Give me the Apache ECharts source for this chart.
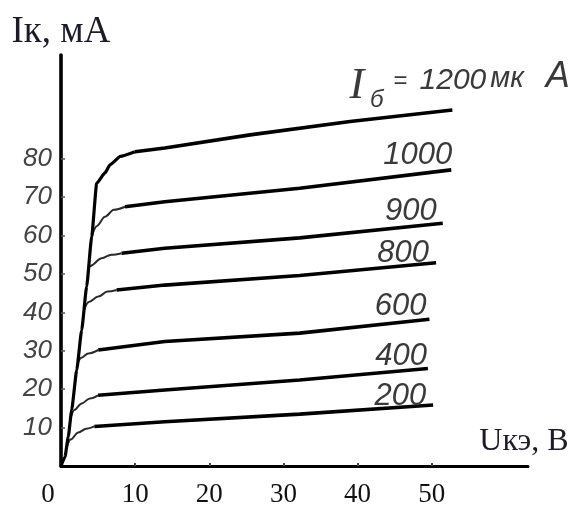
<!DOCTYPE html>
<html>
<head>
<meta charset="utf-8">
<script src="https://cdn.jsdelivr.net/npm/echarts@6/dist/echarts.min.js"></script>
<style>
  html, body { margin: 0; padding: 0; background: #fff; }
  #chart { width: 575px; height: 508px; }
</style>
</head>
<body>
<div id="chart"></div>
<script>
// Output characteristics of a bipolar transistor: Iк versus Uкэ for several base currents Iб (мкА).

const xTicks = [0, 10, 20, 30, 40, 50];
const yTicks = [10, 20, 30, 40, 50, 60, 70, 80];

// Base currents, мкА
const baseCurrents = [1200, 1000, 900, 800, 600, 400, 200];

// Rising part of each curve: [Uкэ, В ; Iк, мА].
// The 1200 curve carries the common steep front starting at the origin;
// the lower curves leave that front at their bend.
const knee1200 = [[0, 0], [0.54, 2.4], [0.98, 7.6], [1.44, 14.6], [2.12, 25.0], [2.79, 35.4], [3.46, 46.7], [4.14, 59.7], [4.81, 73.6], [5.93, 76.3], [6.6, 78.4], [8.0, 80.6], [9.97, 81.8]];
const knee1000 = [[4.14, 59.7], [4.85, 62.5], [5.93, 64.9], [7.14, 66.7], [8.63, 67.5]];
const knee900 = [[3.6, 49.4], [3.96, 52.1], [5.49, 54.1], [6.8, 55.0], [8.18, 55.4]];
const knee800 = [[3.1, 40.6], [3.76, 42.7], [5.03, 44.1], [6.27, 45.4], [7.5, 45.8]];
const knee600 = [[2.3, 27.0], [2.75, 28.2], [3.68, 29.3], [5.03, 30.2]];
const knee400 = [[1.3, 12.5], [1.8, 14.6], [2.79, 16.3], [3.9, 17.6], [5.0, 18.4]];
const knee200 = [[0.72, 4.5], [1.3, 6.9], [2.33, 8.7], [3.4, 9.7], [4.5, 10.3]];

// Active (almost flat) part of each curve
const flat1200 = [[9.97, 81.8], [14.0, 82.8], [25.5, 86.2], [39.0, 89.7], [52.8, 92.7]];
const flat1000 = [[8.63, 67.5], [14.0, 68.8], [32.2, 72.3], [52.65, 77.1]];
const flat900 = [[8.18, 55.4], [14.0, 56.7], [32.2, 59.4], [51.5, 63.2]];
const flat800 = [[7.5, 45.8], [14.0, 47.1], [32.2, 49.6], [50.6, 52.9]];
const flat600 = [[5.03, 30.2], [14.0, 32.4], [32.2, 34.6], [49.7, 38.2]];
const flat400 = [[5.0, 18.4], [14.0, 19.8], [32.2, 22.4], [49.5, 25.4]];
const flat200 = [[4.5, 10.3], [14.0, 11.5], [32.2, 13.5], [50.2, 15.9]];

const knees = [knee1200, knee1000, knee900, knee800, knee600, knee400, knee200];
const flats = [flat1200, flat1000, flat900, flat800, flat600, flat400, flat200];

const handFont = "'Liberation Sans', 'DejaVu Sans', sans-serif";
const serifFont = "'Liberation Serif', 'DejaVu Serif', serif";
const inkGray = '#3a3a3a';

// Nudges for the curve captions (pixels)
const captionShift = {
  1000: [-7, 1.5],
  900: [-14, 3.5],
  800: [-15, 6.5],
  600: [-11, 2.5],
  400: [-9, 3.5],
  200: [-15, 6.5]
};

const series = [];
baseCurrents.forEach((ib, i) => {
  const main = ib === 1200;
  series.push({
    name: 'knee ' + ib,
    type: 'line',
    data: knees[i],
    showSymbol: false,
    smooth: main ? 0.15 : 0.35,
    smoothMonotone: 'x',
    z: main ? 5 : 2,
    lineStyle: { color: main ? '#000' : '#2a2a2a', width: main ? 3.2 : 2 },
    silent: true
  });
  const shift = captionShift[ib] || [0, 0];
  series.push({
    name: String(ib),
    type: 'line',
    data: flats[i],
    showSymbol: false,
    z: 4,
    lineStyle: { color: '#000', width: 3.6 },
    silent: true,
    endLabel: main ? {
      show: true,
      align: 'left',
      verticalAlign: 'bottom',
      offset: [-111, 2],
      formatter: () => '{a|I}{b|б}{e|=}{c|1200}{d|мк}{f|A}',
      rich: {
        a: { fontFamily: serifFont, fontStyle: 'italic', fontSize: 44, color: inkGray, verticalAlign: 'bottom', padding: [0, 4, 3, 0] },
        b: { fontFamily: handFont, fontStyle: 'italic', fontSize: 24, color: inkGray, verticalAlign: 'bottom', padding: [0, 10, 0, 2] },
        e: { fontFamily: handFont, fontSize: 24, color: inkGray, verticalAlign: 'bottom', padding: [0, 12, 19, 0] },
        c: { fontFamily: handFont, fontStyle: 'italic', fontSize: 30, color: inkGray, verticalAlign: 'bottom', padding: [0, 4, 16, 0] },
        d: { fontFamily: handFont, fontStyle: 'italic', fontSize: 29, color: inkGray, verticalAlign: 'bottom', padding: [0, 22, 18, 0] },
        f: { fontFamily: handFont, fontStyle: 'italic', fontSize: 36, color: inkGray, verticalAlign: 'bottom', padding: [0, 0, 17, 0] }
      }
    } : {
      show: true,
      align: 'right',
      verticalAlign: 'bottom',
      offset: shift,
      formatter: String(ib),
      fontFamily: handFont,
      fontStyle: 'italic',
      fontSize: 31,
      color: inkGray
    }
  });
});

const chart = echarts.init(document.getElementById('chart'), null, { renderer: 'canvas' });
chart.setOption({
  backgroundColor: '#fff',
  animation: false,
  grid: { left: 61, right: 47, top: 55, bottom: 42, containLabel: false },
  xAxis: {
    type: 'value',
    min: 0,
    max: 63,
    interval: 10,
    name: 'Uкэ, В',
    nameLocation: 'end',
    nameGap: -4,
    nameTextStyle: {
      fontFamily: serifFont, fontSize: 32, color: '#1b1b2b',
      align: 'center', verticalAlign: 'bottom', padding: [0, 0, 8, 0]
    },
    axisLine: { show: true, lineStyle: { color: '#000', width: 3 } },
    axisTick: { show: true, inside: true, length: 3, customValues: xTicks, lineStyle: { color: '#444', width: 2 } },
    axisLabel: {
      customValues: xTicks,
      margin: 15,
      fontFamily: serifFont,
      fontSize: 27,
      color: '#111',
      formatter: v => (v === 0 ? '{z|0}' : String(v)),
      rich: { z: { fontFamily: serifFont, fontSize: 27, color: '#111', padding: [0, 26, 0, 0] } }
    },
    splitLine: { show: false }
  },
  yAxis: {
    type: 'value',
    min: 0,
    max: 107,
    interval: 10,
    name: 'Iк, мА',
    nameLocation: 'end',
    nameGap: 4,
    nameTextStyle: { fontFamily: serifFont, fontSize: 37, color: '#1b1b2b', align: 'center' },
    axisLine: { show: true, lineStyle: { color: '#000', width: 3.6 } },
    axisTick: { show: true, inside: true, length: 4, customValues: yTicks, lineStyle: { color: '#555', width: 1.5 } },
    axisLabel: {
      customValues: yTicks,
      margin: 9,
      fontFamily: handFont,
      fontStyle: 'italic',
      fontSize: 26,
      color: '#444'
    },
    splitLine: { show: false }
  },
  series: series
});
</script>
</body>
</html>
